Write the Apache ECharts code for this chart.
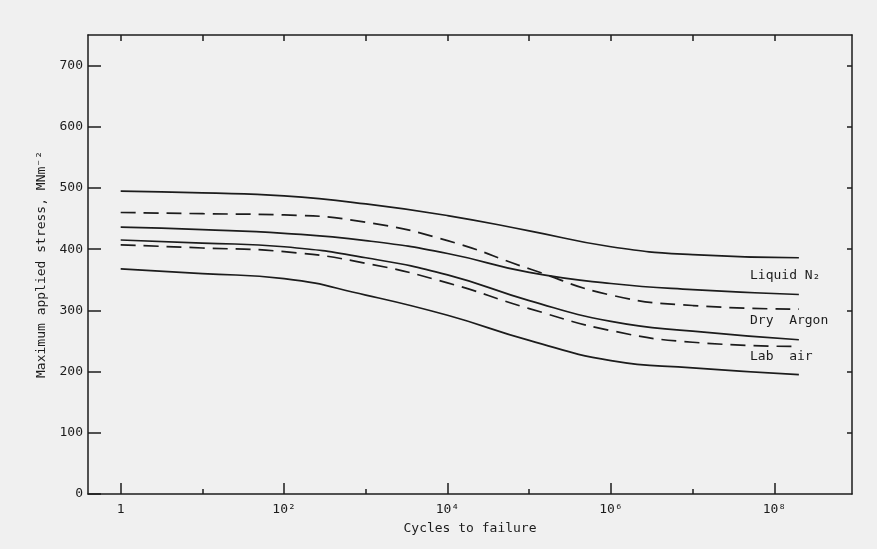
<!DOCTYPE html>
<html>
<head>
<meta charset="utf-8">
<script src="https://cdn.jsdelivr.net/npm/echarts@6/dist/echarts.min.js"></script>
<style>
  html, body { margin: 0; padding: 0; background: #f0f0f0; }
  #chart { width: 877px; height: 549px; }
</style>
</head>
<body>
<div id="chart"></div>
<script>
// log10(cycles to failure) for every reading
var exponents = [0, 1, 2, 3, 4, 5, 6, 7, 8.3];

// stress, MN m^-2
var n2Upper   = [495, 492, 487, 474, 455, 430, 404, 391, 386];
var n2Dashed  = [460, 458, 456, 444, 414, 368, 325, 308, 302];
var argUpper  = [436, 432, 426, 414, 393, 362, 344, 334, 326];
var argLower  = [415, 410, 404, 386, 358, 316, 282, 266, 252];
var airDashed = [407, 402, 396, 377, 345, 303, 267, 248, 241];
var airLower  = [368, 360, 352, 325, 292, 251, 218, 206, 195];

var majorTicks = [0, 2, 4, 6, 8];
var minorTicks = [1, 3, 5, 7];
var topTicks = [0, 1, 2, 3, 4, 5, 6, 7, 8];
var xLabels = ['1', '10²', '10⁴', '10⁶', '10⁸'];
var yTicks = [0, 100, 200, 300, 400, 500, 600, 700];

var FONT = 'DejaVu Sans Mono';
var INK = '#1c1c1c';

function pairs(ys) {
  var out = [];
  for (var i = 0; i < ys.length; i++) {
    out.push([exponents[i], ys[i]]);
  }
  return out;
}

function curve(name, ys, dashed) {
  return {
    name: name,
    type: 'line',
    data: pairs(ys),
    smooth: 0.5,
    symbol: 'none',
    silent: true,
    lineStyle: {
      color: INK,
      width: 1.7,
      type: dashed ? [15, 8] : 'solid'
    }
  };
}

var chart = echarts.init(document.getElementById('chart'));

chart.setOption({
  backgroundColor: '#f0f0f0',
  animation: false,
  grid: { left: 88, right: 25, top: 35, bottom: 55 },
  xAxis: [
    {
      type: 'value',
      position: 'bottom',
      min: -0.4,
      max: 8.95,
      name: 'Cycles to failure',
      nameLocation: 'middle',
      nameGap: 28,
      nameTextStyle: { fontFamily: FONT, fontSize: 13, color: INK },
      axisLine: { show: true, onZero: false, lineStyle: { color: INK, width: 1.5 } },
      axisTick: {
        show: true, inside: true, length: 11, customValues: majorTicks,
        lineStyle: { color: INK, width: 1.5 }
      },
      axisLabel: {
        customValues: majorTicks,
        margin: 9,
        fontFamily: FONT, fontSize: 13, color: INK,
        formatter: function (v) {
          return xLabels[majorTicks.indexOf(Math.round(v))] || '';
        }
      },
      splitLine: { show: false }
    },
    {
      type: 'value',
      position: 'bottom',
      min: -0.4,
      max: 8.95,
      axisLine: { show: false, onZero: false },
      axisTick: {
        show: true, inside: true, length: 5, customValues: minorTicks,
        lineStyle: { color: INK, width: 1.5 }
      },
      axisLabel: { show: false },
      splitLine: { show: false }
    },
    {
      type: 'value',
      position: 'top',
      min: -0.4,
      max: 8.95,
      axisLine: { show: true, onZero: false, lineStyle: { color: INK, width: 1.5 } },
      axisTick: {
        show: true, inside: true, length: 6, customValues: topTicks,
        lineStyle: { color: INK, width: 1.5 }
      },
      axisLabel: { show: false },
      splitLine: { show: false }
    }
  ],
  yAxis: [
    {
      type: 'value',
      position: 'left',
      min: 0,
      max: 750,
      name: 'Maximum applied stress, MNm⁻²',
      nameLocation: 'middle',
      nameRotate: 90,
      nameGap: 34,
      nameTextStyle: { fontFamily: FONT, fontSize: 13, color: INK },
      axisLine: { show: true, onZero: false, lineStyle: { color: INK, width: 1.5 } },
      axisTick: {
        show: true, inside: true, length: 13, customValues: yTicks,
        lineStyle: { color: INK, width: 1.5 }
      },
      axisLabel: {
        customValues: yTicks,
        margin: 5,
        fontFamily: FONT, fontSize: 13, color: INK
      },
      splitLine: { show: false }
    },
    {
      type: 'value',
      position: 'right',
      min: 0,
      max: 750,
      axisLine: { show: true, onZero: false, lineStyle: { color: INK, width: 1.5 } },
      axisTick: {
        show: true, inside: true, length: 5, customValues: yTicks.slice(1),
        lineStyle: { color: INK, width: 1.5 }
      },
      axisLabel: { show: false },
      splitLine: { show: false }
    }
  ],
  series: [
    curve('Liquid N2 upper', n2Upper, false),
    curve('Liquid N2 dashed', n2Dashed, true),
    curve('Dry Argon upper', argUpper, false),
    curve('Dry Argon lower', argLower, false),
    curve('Lab air dashed', airDashed, true),
    curve('Lab air lower', airLower, false)
  ],
  graphic: [
    {
      type: 'text', left: 750, top: 269,
      style: { text: 'Liquid N₂', font: '13px "DejaVu Sans Mono"', fill: INK }
    },
    {
      type: 'text', left: 750, top: 314,
      style: { text: 'Dry  Argon', font: '13px "DejaVu Sans Mono"', fill: INK }
    },
    {
      type: 'text', left: 750, top: 350,
      style: { text: 'Lab  air', font: '13px "DejaVu Sans Mono"', fill: INK }
    }
  ]
});
</script>
</body>
</html>
